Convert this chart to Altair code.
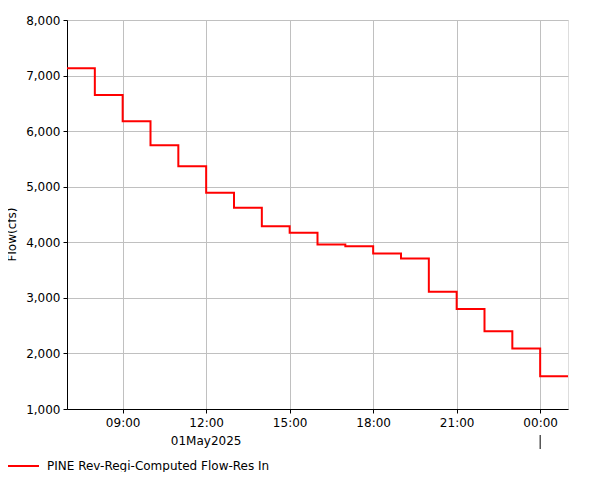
import altair as alt
import pandas as pd

# Hourly step values (cfs), each holding from its timestamp to the next
times = [
    "2025-05-01T07:00:00Z", "2025-05-01T08:00:00Z", "2025-05-01T09:00:00Z",
    "2025-05-01T10:00:00Z", "2025-05-01T11:00:00Z", "2025-05-01T12:00:00Z",
    "2025-05-01T13:00:00Z", "2025-05-01T14:00:00Z", "2025-05-01T15:00:00Z",
    "2025-05-01T16:00:00Z", "2025-05-01T17:00:00Z", "2025-05-01T18:00:00Z",
    "2025-05-01T19:00:00Z", "2025-05-01T20:00:00Z", "2025-05-01T21:00:00Z",
    "2025-05-01T22:00:00Z", "2025-05-01T23:00:00Z", "2025-05-02T00:00:00Z",
    "2025-05-02T01:00:00Z",
]
flows = [7130, 6650, 6180, 5745, 5370, 4890, 4620, 4290, 4170, 3960,
         3930, 3800, 3710, 3110, 2800, 2400, 2090, 1590]
series_name = "PINE Rev-Regi-Computed Flow-Res In"
tick_times = ["2025-05-01T09:00:00Z", "2025-05-01T12:00:00Z", "2025-05-01T15:00:00Z",
              "2025-05-01T18:00:00Z", "2025-05-01T21:00:00Z", "2025-05-02T00:00:00Z"]
y_ticks = [1000, 2000, 3000, 4000, 5000, 6000, 7000, 8000]
date_label = "01May2025"
date_label_time = "2025-05-01T12:00:00Z"
day_break_time = "2025-05-02T00:00:00Z"

FONT = "DejaVu Sans"

df = pd.DataFrame({
    "time": times,
    "flow": flows + [flows[-1]],
    "series": series_name,
})

tick_ms = [int(pd.Timestamp(t).value // 10**6) for t in tick_times]
x_domain = [int(pd.Timestamp(times[0]).value // 10**6),
            int(pd.Timestamp(times[-1]).value // 10**6)]

x_scale = alt.Scale(type="utc", domain=x_domain, nice=False)

line = alt.Chart(df).mark_line(interpolate="step-after", strokeWidth=2).encode(
    x=alt.X("time:T", scale=x_scale,
            axis=alt.Axis(values=tick_ms, format="%H:%M", title=None, grid=True,
                          gridColor="#c0c0c0", domainColor="black", tickColor="black",
                          tickSize=4, labelPadding=4, labelFontSize=12, labelFont=FONT,
                          labelColor="black", labelFlush=False)),
    y=alt.Y("flow:Q", scale=alt.Scale(domain=[1000, 8000], nice=False, zero=False),
            axis=alt.Axis(values=y_ticks, format=",d", title="Flow(cfs)", grid=True,
                          gridColor="#c0c0c0", domainColor="black", tickColor="black",
                          tickSize=4, labelPadding=3, labelFontSize=12, labelFont=FONT,
                          labelColor="black", titleFont=FONT, titleFontSize=12,
                          titleFontWeight="normal", titleColor="black",
                          titleAngle=270, titleAlign="center", titleBaseline="middle",
                          titleX=-56, titleY=214, titleLimit=300)),
    color=alt.Color("series:N", scale=alt.Scale(range=["#ff0000"]),
                    legend=alt.Legend(title=None, orient="none", legendX=-61, legendY=429,
                                      symbolType="stroke", symbolSize=1024,
                                      symbolStrokeWidth=2, labelFontSize=12,
                                      labelFont=FONT, labelColor="black", labelOffset=7,
                                      labelLimit=400)),
)

date_df = pd.DataFrame({"time": [date_label_time], "label": [date_label]})
date_text = alt.Chart(date_df).mark_text(font=FONT, fontSize=12, color="black",
                                          baseline="middle", align="center").encode(
    x=alt.X("time:T", scale=x_scale),
    y=alt.value(421),
    text="label:N",
)

break_df = pd.DataFrame({"time": [day_break_time]})
day_break = alt.Chart(break_df).mark_rule(color="black", strokeWidth=1).encode(
    x=alt.X("time:T", scale=x_scale),
    y=alt.value(415),
    y2=alt.value(429),
)

chart = alt.layer(line, date_text, day_break).properties(
    width=501, height=389,
    autosize=alt.AutoSizeParams(type="none"),
    padding={"left": 59, "top": 12, "right": 25, "bottom": 63},
).configure_view(stroke="black", strokeWidth=1).configure(background="white")

chart.save("out.html", embed_options={"renderer": "svg", "actions": False})
